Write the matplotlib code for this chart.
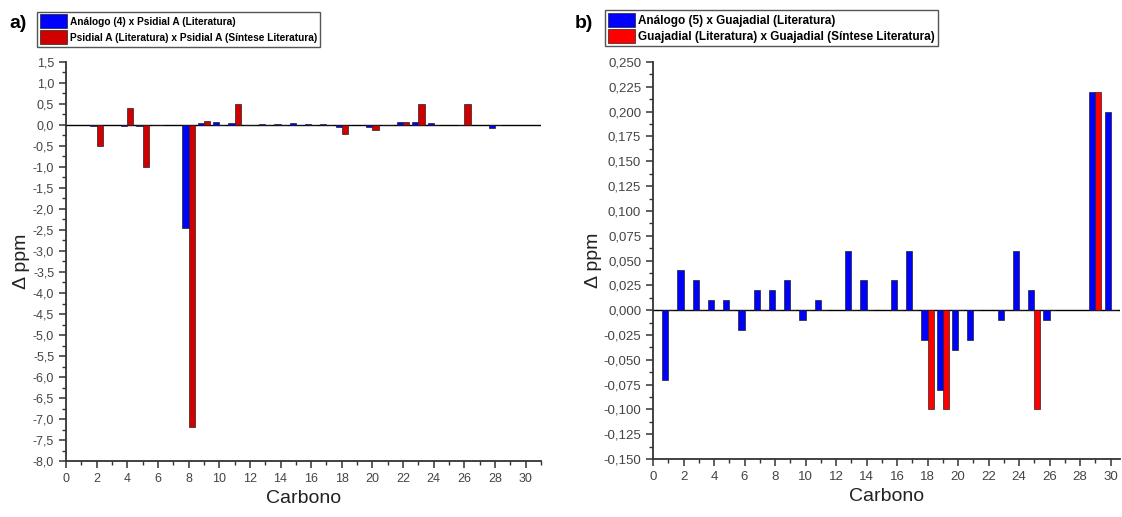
import matplotlib.pyplot as plt
from matplotlib.ticker import MultipleLocator, FuncFormatter

plt.rcParams['font.family'] = ['Liberation Sans', 'DejaVu Sans']

# a) Psidial A
carbons_a = [2, 4, 5, 6, 8, 9, 10, 11, 12, 13, 14, 15, 16, 17, 18, 20, 21, 22, 23, 24, 26, 28]
blue_a = [-0.02, -0.03, -0.03, 0.01, -2.45, 0.04, 0.07, 0.05, -0.01, 0.02, 0.02, 0.05, 0.02, 0.02,
          -0.05, -0.05, 0.01, 0.07, 0.07, 0.04, 0.0, -0.06]
red_a = [-0.5, 0.4, -1.0, 0.0, -7.2, 0.1, 0.0, 0.5, 0.0, 0.0, 0.0, 0.0, 0.0, 0.0,
         -0.22, -0.12, 0.0, 0.08, 0.5, 0.0, 0.5, 0.0]

# b) Guajadial
carbons_b = [1, 2, 3, 4, 5, 6, 7, 8, 9, 10, 11, 13, 14, 16, 17, 18, 19, 20, 21, 23, 24, 25, 26, 29, 30]
blue_b = [-0.07, 0.04, 0.03, 0.01, 0.01, -0.02, 0.02, 0.02, 0.03, -0.01, 0.01, 0.06, 0.03, 0.03, 0.06,
          -0.03, -0.08, -0.04, -0.03, -0.01, 0.06, 0.02, -0.01, 0.22, 0.20]
red_b = [0, 0, 0, 0, 0, 0, 0, 0, 0, 0, 0, 0, 0, 0, 0,
         -0.1, -0.1, 0, 0, 0, 0, -0.1, 0, 0.22, 0]

labels_a = ['Análogo (4) x Psidial A (Literatura)',
            'Psidial A (Literatura) x Psidial A (Síntese Literatura)']
labels_b = ['Análogo (5) x Guajadial (Literatura)',
            'Guajadial (Literatura) x Guajadial (Síntese Literatura)']

fig = plt.figure(figsize=(11.22, 5.17), dpi=100)
ax1 = fig.add_axes([0.0588, 0.1083, 0.4234, 0.7718])
ax2 = fig.add_axes([0.582, 0.112, 0.416, 0.768])

w = 0.4


def comma(dec):
    return FuncFormatter(lambda v, p: f"{v:.{dec}f}".replace('.', ','))


def style(ax, ymaj, ymin, dec, lsize):
    for s in ['top', 'right']:
        ax.spines[s].set_visible(False)
    for s in ['left', 'bottom']:
        ax.spines[s].set_linewidth(1.3)
        ax.spines[s].set_color('#333333')
    ax.axhline(0, color='black', lw=1.0, zorder=1)
    ax.xaxis.set_major_locator(MultipleLocator(2))
    ax.xaxis.set_minor_locator(MultipleLocator(1))
    ax.yaxis.set_major_locator(MultipleLocator(ymaj))
    ax.yaxis.set_minor_locator(MultipleLocator(ymin))
    ax.yaxis.set_major_formatter(comma(dec))
    ax.tick_params(which='major', direction='out', length=5, width=1.1, labelsize=lsize,
                   labelcolor='#444444', color='#333333')
    ax.tick_params(which='minor', direction='out', length=3, width=1.0, color='#333333')
    ax.set_xlabel('Carbono', fontsize=14, color='#222222')
    ax.set_ylabel('Δ ppm', fontsize=14, color='#222222')


b1 = ax1.bar([c - w / 2 for c in carbons_a], blue_a, w, color='#0000FF', edgecolor='#222222', lw=0.5, zorder=2)
r1 = ax1.bar([c + w / 2 for c in carbons_a], red_a, w, color='#D00000', edgecolor='#222222', lw=0.5, zorder=2)
ax1.set_xlim(0, 31)
ax1.set_ylim(-8.0, 1.5)
style(ax1, 0.5, 0.25, 1, 9)
ax1.yaxis.set_label_coords(-0.075, 0.5)

b2 = ax2.bar([c - w / 2 for c in carbons_b], blue_b, w, color='#0000FF', edgecolor='#222222', lw=0.5, zorder=2)
r2 = ax2.bar([c + w / 2 for c in carbons_b], red_b, w, color='#FF0000', edgecolor='#222222', lw=0.5, zorder=2)
ax2.set_xlim(0, 30.6)
ax2.set_ylim(-0.150, 0.250)
style(ax2, 0.025, 0.0125, 3, 9.5)
ax2.yaxis.set_label_coords(-0.11, 0.5)

fig.legend([b1, r1], labels_a, loc='upper left', bbox_to_anchor=(0.033, 0.977), borderaxespad=0,
           prop={'size': 7.3, 'weight': 'bold'}, fancybox=False, edgecolor='#555555',
           handlelength=2.7, handleheight=1.75, handletextpad=0.3, labelspacing=0.2,
           borderpad=0.25, framealpha=1)
fig.legend([b2, r2], labels_b, loc='upper left', bbox_to_anchor=(0.539, 0.981), borderaxespad=0,
           prop={'size': 8.5, 'weight': 'bold'}, fancybox=False, edgecolor='#555555',
           handlelength=2.3, handleheight=1.5, handletextpad=0.3, labelspacing=0.15,
           borderpad=0.25, framealpha=1)

fig.text(0.008, 0.945, 'a)', fontsize=14, fontweight='bold')
fig.text(0.512, 0.945, 'b)', fontsize=14, fontweight='bold')

fig.savefig('out.png', dpi=100, facecolor='white')
